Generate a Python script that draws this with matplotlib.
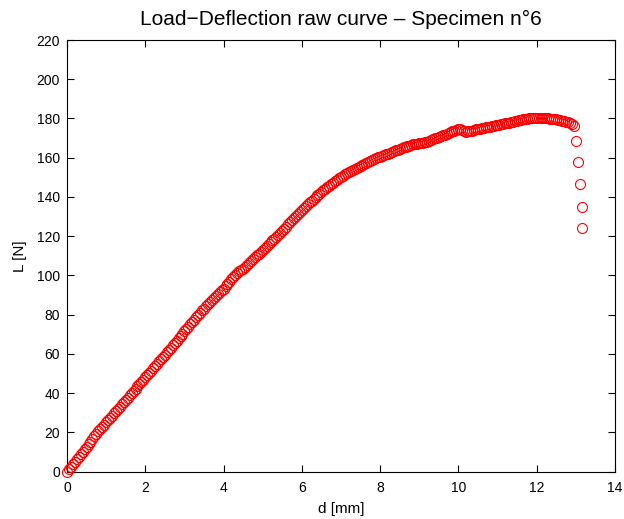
"""
Load-deflection raw curve for specimen 6, drawn as open red circles.
"""

import matplotlib
matplotlib.use("Agg")
import matplotlib.pyplot as plt

# deflection d [mm]
d_mm = [0.00, 0.05, 0.10, 0.15, 0.20, 0.25, 0.30, 0.35, 0.40, 0.45,
        0.50, 0.55, 0.60, 0.65, 0.70, 0.75, 0.80, 0.85, 0.90, 0.95,
        1.00, 1.05, 1.10, 1.15, 1.20, 1.25, 1.30, 1.35, 1.40, 1.45,
        1.50, 1.55, 1.60, 1.65, 1.70, 1.75, 1.80, 1.85, 1.90, 1.95,
        2.00, 2.05, 2.10, 2.15, 2.20, 2.25, 2.30, 2.35, 2.40, 2.45,
        2.50, 2.55, 2.60, 2.65, 2.70, 2.75, 2.80, 2.85, 2.90, 2.95,
        3.00, 3.05, 3.10, 3.15, 3.20, 3.25, 3.30, 3.35, 3.40, 3.45,
        3.50, 3.55, 3.60, 3.65, 3.70, 3.75, 3.80, 3.85, 3.90, 3.95,
        4.00, 4.05, 4.10, 4.15, 4.20, 4.25, 4.30, 4.35, 4.40, 4.45,
        4.50, 4.55, 4.60, 4.65, 4.70, 4.75, 4.80, 4.85, 4.90, 4.95,
        5.00, 5.05, 5.10, 5.15, 5.20, 5.25, 5.30, 5.35, 5.40, 5.45,
        5.50, 5.55, 5.60, 5.65, 5.70, 5.75, 5.80, 5.85, 5.90, 5.95,
        6.00, 6.05, 6.10, 6.15, 6.20, 6.25, 6.30, 6.35, 6.40, 6.45,
        6.50, 6.55, 6.60, 6.65, 6.70, 6.75, 6.80, 6.85, 6.90, 6.95,
        7.00, 7.05, 7.10, 7.15, 7.20, 7.25, 7.30, 7.35, 7.40, 7.45,
        7.50, 7.55, 7.60, 7.65, 7.70, 7.75, 7.80, 7.85, 7.90, 7.95,
        8.00, 8.05, 8.10, 8.15, 8.20, 8.25, 8.30, 8.35, 8.40, 8.45,
        8.50, 8.55, 8.60, 8.65, 8.70, 8.75, 8.80, 8.85, 8.90, 8.95,
        9.00, 9.05, 9.10, 9.15, 9.20, 9.25, 9.30, 9.35, 9.40, 9.45,
        9.50, 9.55, 9.60, 9.65, 9.70, 9.75, 9.80, 9.85, 9.90, 9.95,
        10.00, 10.05, 10.10, 10.15, 10.20, 10.25, 10.30, 10.35, 10.40, 10.45,
        10.50, 10.55, 10.60, 10.65, 10.70, 10.75, 10.80, 10.85, 10.90, 10.95,
        11.00, 11.05, 11.10, 11.15, 11.20, 11.25, 11.30, 11.35, 11.40, 11.45,
        11.50, 11.55, 11.60, 11.65, 11.70, 11.75, 11.80, 11.85, 11.90, 11.95,
        12.00, 12.05, 12.10, 12.15, 12.20, 12.25, 12.30, 12.35, 12.40, 12.45,
        12.50, 12.55, 12.60, 12.65, 12.70, 12.75, 12.80, 12.85, 12.90, 12.95,
        13.00, 13.06, 13.11, 13.15, 13.16]

# load L [N] at each deflection
load_N = [0.0, 1.2, 2.4, 3.6, 4.9, 6.2, 7.5, 8.8, 10.1, 11.4,
          12.7, 14.0, 15.3, 16.6, 17.9, 19.2, 20.4, 21.6, 22.7, 23.9,
          25.0, 26.2, 27.3, 28.5, 29.6, 30.8, 31.9, 33.1, 34.2, 35.4,
          36.5, 37.7, 38.8, 40.0, 41.1, 42.3, 43.4, 44.6, 45.7, 46.9,
          48.0, 49.2, 50.3, 51.5, 52.6, 53.8, 54.9, 56.1, 57.2, 58.4,
          59.5, 60.7, 61.9, 63.1, 64.3, 65.5, 66.7, 67.9, 69.1, 70.3,
          71.5, 72.7, 73.9, 75.1, 76.3, 77.5, 78.7, 79.9, 81.0, 82.1,
          83.1, 84.2, 85.2, 86.3, 87.3, 88.3, 89.3, 90.3, 91.3, 92.3,
          93.3, 94.4, 95.6, 96.8, 98.0, 99.2, 100.4, 101.3, 102.0, 102.7,
          103.5, 104.3, 105.2, 106.2, 107.2, 108.2, 109.2, 110.2, 111.1, 112.1,
          113.0, 114.0, 114.9, 115.9, 116.8, 117.8, 118.8, 119.8, 120.8, 121.8,
          122.8, 123.9, 124.9, 126.0, 127.0, 128.1, 129.1, 130.2, 131.2, 132.3,
          133.3, 134.3, 135.3, 136.3, 137.2, 138.1, 139.0, 139.9, 140.8, 141.7,
          142.5, 143.4, 144.2, 145.0, 145.8, 146.6, 147.3, 148.1, 148.8, 149.5,
          150.2, 150.9, 151.5, 152.1, 152.7, 153.3, 153.8, 154.4, 154.9, 155.4,
          155.9, 156.4, 156.9, 157.4, 157.8, 158.3, 158.7, 159.2, 159.6, 160.1,
          160.5, 160.9, 161.3, 161.7, 162.1, 162.5, 162.9, 163.3, 163.7, 164.1,
          164.5, 164.9, 165.2, 165.6, 165.9, 166.2, 166.5, 166.8, 167.0, 167.2,
          167.3, 167.4, 167.6, 167.9, 168.2, 168.6, 169.0, 169.4, 169.8, 170.2,
          170.6, 171.0, 171.4, 171.8, 172.2, 172.6, 173.0, 173.4, 173.8, 174.2,
          174.6, 174.4, 174.0, 173.6, 173.3, 173.4, 173.6, 173.8, 174.1, 174.4,
          174.6, 174.8, 175.0, 175.3, 175.5, 175.7, 175.9, 176.1, 176.3, 176.5,
          176.7, 176.9, 177.1, 177.3, 177.5, 177.7, 177.9, 178.1, 178.3, 178.6,
          178.8, 179.1, 179.3, 179.5, 179.7, 179.9, 180.0, 180.1, 180.2, 180.3,
          180.3, 180.3, 180.3, 180.3, 180.2, 180.1, 180.0, 179.9, 179.8, 179.7,
          179.5, 179.3, 179.1, 178.9, 178.6, 178.3, 178.0, 177.6, 177.2, 176.3,
          168.6, 157.9, 146.5, 134.8, 124.2]

x_ticks = [0, 2, 4, 6, 8, 10, 12, 14]
y_ticks = [0, 20, 40, 60, 80, 100, 120, 140, 160, 180, 200, 220]

plt.rcParams["font.family"] = ["Liberation Sans", "DejaVu Sans"]

fig = plt.figure(figsize=(6.24, 5.19), dpi=100)
ax = fig.add_axes([0.1074, 0.0915, 0.878, 0.8314])

ax.plot(d_mm, load_N, linestyle="none", marker="o", markersize=7.2,
        markerfacecolor="none", markeredgecolor="#ff0000", markeredgewidth=0.8,
        clip_on=False, zorder=3)

ax.set_xlim(0, 14)
ax.set_ylim(0, 220)
ax.set_xticks(x_ticks)
ax.set_yticks(y_ticks)
ax.tick_params(direction="in", top=True, right=True, length=5, width=0.8,
               labelsize=10)
ax.tick_params(axis="x", pad=7)
ax.tick_params(axis="y", pad=5)
for sp in ax.spines.values():
    sp.set_linewidth(0.8)

ax.set_xlabel("d [mm]", fontsize=11, labelpad=5)
ax.set_ylabel("L [N]", fontsize=11, labelpad=7)
ax.set_title("Load\u2212Deflection raw curve \u2013 Specimen n\u00b06", fontsize=15, pad=11)

fig.savefig("out.png", dpi=100)
